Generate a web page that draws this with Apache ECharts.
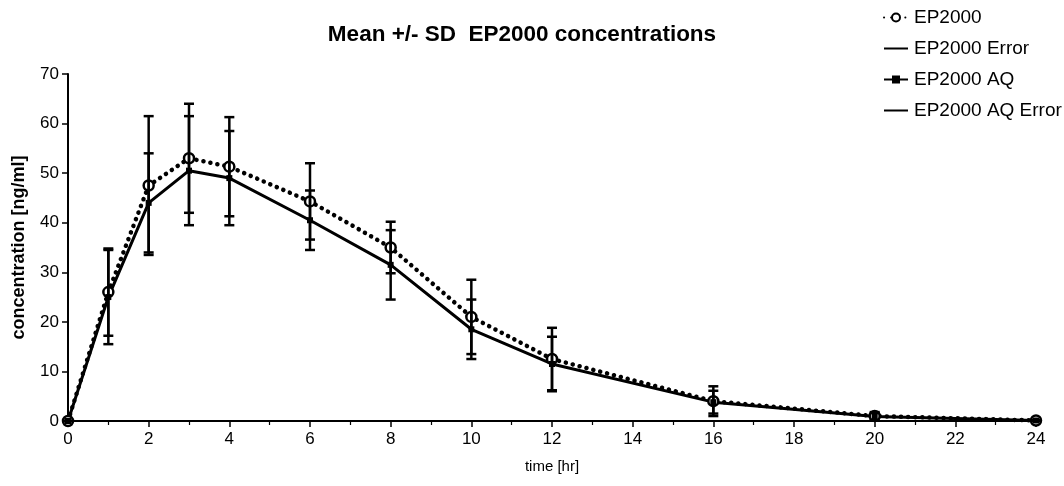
<!DOCTYPE html>
<html>
<head>
<meta charset="utf-8">
<script src="https://cdn.jsdelivr.net/npm/echarts@6/dist/echarts.min.js"></script>
<style>
html,body{margin:0;padding:0;background:#fff;}
#chart{width:1064px;height:486px;}
</style>
</head>
<body>
<div id="chart"></div>
<script>
const times = [0, 1, 2, 3, 4, 6, 8, 10, 12, 16, 20, 24];
const ep2000Mean = [0, 26, 47.5, 53, 51.3, 44.3, 35, 21, 12.5, 4, 1, 0.1];
const ep2000SD   = [0, 8.8, 14, 11, 10, 7.7, 5.2, 7.5, 6.3, 3, 0.8, 0.1];
const aqMean     = [0, 25, 44, 50.5, 49, 40.5, 31.5, 18.5, 11.5, 3.8, 0.9, 0.1];
const aqSD       = [0, 9.5, 10, 11, 9.5, 6, 7, 6, 5.5, 2.3, 0.7, 0.1];
const xTicks = [0, 2, 4, 6, 8, 10, 12, 14, 16, 18, 20, 22, 24];
const yTicks = [0, 10, 20, 30, 40, 50, 60, 70];

const chart = echarts.init(document.getElementById('chart'));

function pts(means) { return times.map((t, i) => [t, means[i]]); }
function errData(means, sds) { return times.map((t, i) => [t, means[i] - sds[i], means[i] + sds[i]]); }

function errRender(params, api) {
  const x = api.value(0);
  const lo = api.coord([x, api.value(1)]);
  const hi = api.coord([x, api.value(2)]);
  const hw = 5;
  const style = { stroke: '#000', lineWidth: 2.5, fill: null };
  return {
    type: 'group',
    children: [
      { type: 'line', shape: { x1: lo[0], y1: lo[1], x2: hi[0], y2: hi[1] }, style },
      { type: 'line', shape: { x1: lo[0] - hw, y1: lo[1], x2: lo[0] + hw, y2: lo[1] }, style },
      { type: 'line', shape: { x1: hi[0] - hw, y1: hi[1], x2: hi[0] + hw, y2: hi[1] }, style }
    ]
  };
}

const font = 'Liberation Sans, Arial, sans-serif';
const lineIcon = 'path://M0,4 L24,4 L24,6 L0,6 Z';

chart.setOption({
  animation: false,
  backgroundColor: '#fff',
  title: {
    text: 'Mean +/- SD  EP2000 concentrations',
    left: 517, top: 18, textAlign: 'center',
    textStyle: { fontFamily: font, fontWeight: 'bold', fontSize: 22.5, color: '#000' }
  },
  legend: {
    orient: 'vertical', left: 878, top: 3, itemGap: 12, itemWidth: 24, itemHeight: 10,
    textStyle: { fontFamily: font, fontSize: 19, color: '#000', padding: [0, 0, 0, 1] },
    data: [
      { name: 'EP2000' },
      { name: 'EP2000 Error', icon: lineIcon },
      { name: 'EP2000 AQ' },
      { name: 'EP2000 AQ Error', icon: lineIcon }
    ]
  },
  grid: { left: 68, right: 28, top: 74, bottom: 65, containLabel: false },
  xAxis: {
    type: 'value', min: 0, max: 24, interval: 2,
    name: 'time [hr]', nameLocation: 'middle', nameGap: 38,
    nameTextStyle: { fontFamily: 'Liberation Sans Narrow, ' + font, fontSize: 15, color: '#000' },
    axisLine: { show: true, onZero: false, lineStyle: { color: '#000', width: 2 } },
    axisTick: { show: true, length: 6, lineStyle: { color: '#000', width: 1.5 } },
    minorTick: { show: true, splitNumber: 2, length: 4, lineStyle: { color: '#000', width: 1.2 } },
    splitLine: { show: false },
    axisLabel: {
      fontFamily: 'Liberation Sans Narrow, ' + font, fontSize: 17, color: '#000', margin: 10,
      formatter: v => xTicks.includes(v) ? String(v) : ''
    }
  },
  yAxis: {
    type: 'value', min: 0, max: 70, interval: 10,
    name: 'concentration [ng/ml]', nameLocation: 'middle', nameGap: 40, nameRotate: 90,
    nameTextStyle: { fontFamily: font, fontWeight: 'bold', fontSize: 18, color: '#000' },
    axisLine: { show: true, lineStyle: { color: '#000', width: 2 } },
    axisTick: { show: true, length: 6, lineStyle: { color: '#000', width: 1.5 } },
    splitLine: { show: false },
    axisLabel: {
      fontFamily: font, fontSize: 17, color: '#000', margin: 9,
      formatter: v => yTicks.includes(v) ? String(v) : ''
    }
  },
  series: [
    {
      name: 'EP2000', type: 'line', data: pts(ep2000Mean), z: 3,
      lineStyle: { color: '#000', width: 4.5, type: [0.1, 7], cap: 'round' },
      itemStyle: { color: '#fff', borderColor: '#000', borderWidth: 2.5 },
      symbol: 'circle', symbolSize: 10, showSymbol: true
    },
    {
      name: 'EP2000 Error', type: 'custom', data: errData(ep2000Mean, ep2000SD),
      renderItem: errRender, encode: { x: 0, y: [1, 2] }, z: 4,
      itemStyle: { color: '#000' }
    },
    {
      name: 'EP2000 AQ', type: 'line', data: pts(aqMean), z: 3,
      lineStyle: { color: '#000', width: 3 },
      itemStyle: { color: '#000' },
      symbol: 'rect', symbolSize: 6, showSymbol: true
    },
    {
      name: 'EP2000 AQ Error', type: 'custom', data: errData(aqMean, aqSD),
      renderItem: errRender, encode: { x: 0, y: [1, 2] }, z: 4,
      itemStyle: { color: '#000' }
    }
  ]
});
</script>
</body>
</html>
